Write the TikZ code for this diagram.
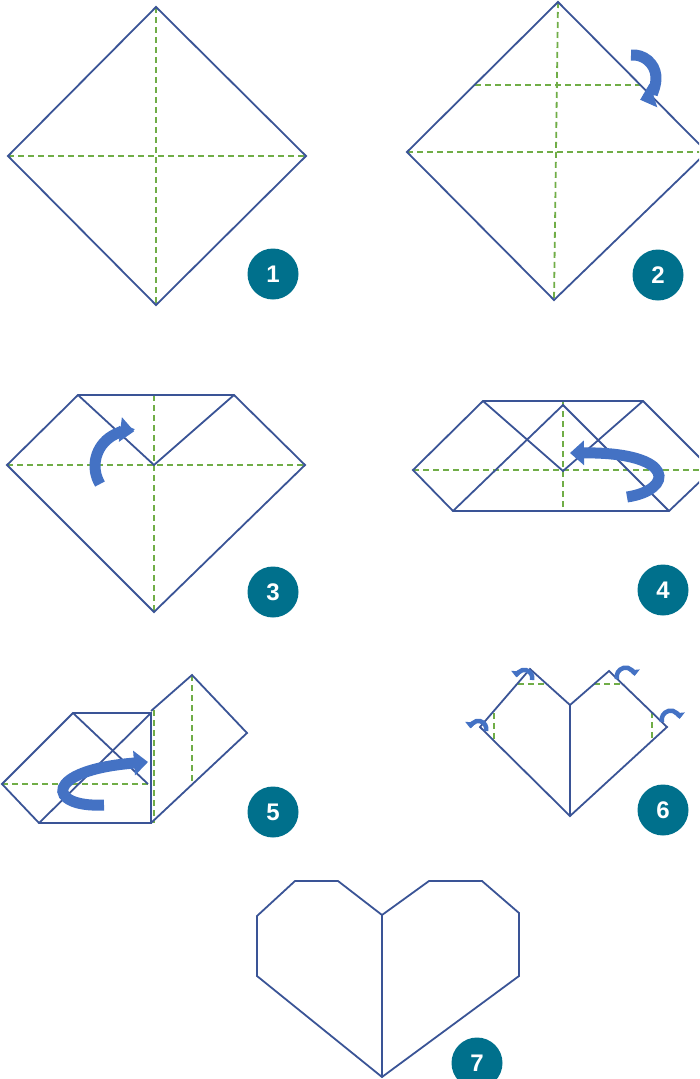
\documentclass[tikz,border=0pt]{standalone}
\usepackage{fontspec}
\setmainfont{Liberation Sans}
\usetikzlibrary{arrows.meta}
\definecolor{paperline}{RGB}{58,84,150}
\definecolor{creaseline}{RGB}{112,173,71}
\definecolor{foldblue}{RGB}{68,114,196}
\definecolor{badgeteal}{RGB}{0,112,140}
\begin{document}
\begin{tikzpicture} [x=1pt,y=-1pt,
		paper/.style={draw=paperline,line width=1.8pt},
		crease/.style={draw=creaseline,line width=1.8pt,dash pattern=on 6pt off 4pt},
		fold arrow/.style={draw=foldblue,line width=11pt,-{Triangle[width=24pt,length=14pt]}},
		small fold/.style={draw=foldblue,line width=4.5pt,-{Triangle[width=11pt,length=6pt]}},
		badge/.style={circle,fill=badgeteal,text=white,minimum size=51pt,inner sep=0pt,
			font=\bfseries\fontsize{24}{24}\selectfont}]

	\useasboundingbox (0,0) rectangle (699,1079);
	\clip (0,0) rectangle (699,1079);

	\draw [crease] (8,156) -- (306,156);
	\draw [crease] (156,7) -- (156,305);
	\draw [paper] (156,7) -- (306,156) -- (156,305) -- (8,156) -- cycle;
	\node [badge] (badge-1) at (273,274) {1};

	\draw [crease] (407,152) -- (705,152);
	\draw [crease] (475,85) -- (641,85);
	\draw [crease] (558,2) -- (554,300);
	\draw [paper] (558,2) -- (707,152) -- (554,300) -- (407,152) -- cycle;
	\draw [fold arrow] (631,55) arc [start angle=-95,end angle=72,radius=23];
	\node [badge] (badge-2) at (658,275) {2};

	\draw [crease] (7,465) -- (305,465);
	\draw [crease] (154,395) -- (154,612);
	\draw [paper] (78,395) -- (234,395) -- (305,465) -- (154,612) -- (7,465) -- cycle;
	\draw [paper] (78,395) -- (154,465) -- (234,395);
	\draw [fold arrow] (100,484) arc [start angle=149,end angle=277,radius=35];
	\node [badge] (badge-3) at (273,592) {3};

	\draw [crease] (413,470) -- (705,470);
	\draw [crease] (563,401) -- (563,511);
	\draw [paper] (483,401) -- (643,401) -- (712,470) -- (669,511) -- (453,511) -- (413,470) -- cycle;
	\draw [paper] (483,401) -- (563,471) -- (643,401);
	\draw [paper] (453,511) -- (563,405) -- (669,511);
	\draw [fold arrow] (627,497) .. controls (674,490) and (677,452) .. (570,453);
	\node [badge] (badge-4) at (663,590) {4};

	\draw [crease] (2,784) -- (150,784);
	\draw [crease] (192,675) -- (192,782);
	\draw [crease] (154,710) -- (154,823);
	\draw [paper] (73,713) -- (151,713) -- (151,823) -- (39,823) -- (2,784) -- cycle;
	\draw [paper] (73,713) -- (148,784);
	\draw [paper] (39,823) -- (151,713);
	\draw [paper] (151,711) -- (192,675) -- (247,733) -- (151,823);
	\draw [fold arrow] (104,805) .. controls (46,808) and (43,770) .. (148,762);
	\node [badge] (badge-5) at (273,812) {5};

	\draw [crease] (518,684) -- (548,684);
	\draw [crease] (494,713) -- (494,741);
	\draw [crease] (594,684) -- (624,684);
	\draw [crease] (652,712) -- (652,738);
	\draw [paper] (570,705) -- (530,669) -- (480,727) -- (570,816) -- (667,727) -- (609,671) -- cycle;
	\draw [paper] (570,705) -- (570,816);
	\draw [small fold] (532,680) arc [start angle=15,end angle=-175,radius=8];
	\draw [small fold] (486,731) arc [start angle=15,end angle=-175,radius=8];
	\draw [small fold] (617,679) arc [start angle=-195,end angle=-5,radius=9];
	\draw [small fold] (662,722) arc [start angle=-195,end angle=-5,radius=9];
	\node [badge] (badge-6) at (663,810) {6};

	\draw [paper] (382,915) -- (338,881) -- (295,881) -- (257,916) -- (257,976) -- (382,1077)
		-- (519,976) -- (519,913) -- (482,881) -- (429,881) -- cycle;
	\draw [paper] (382,915) -- (382,1077);
	\node [badge] (badge-7) at (477,1063) {7};
\end{tikzpicture}
\end{document}
